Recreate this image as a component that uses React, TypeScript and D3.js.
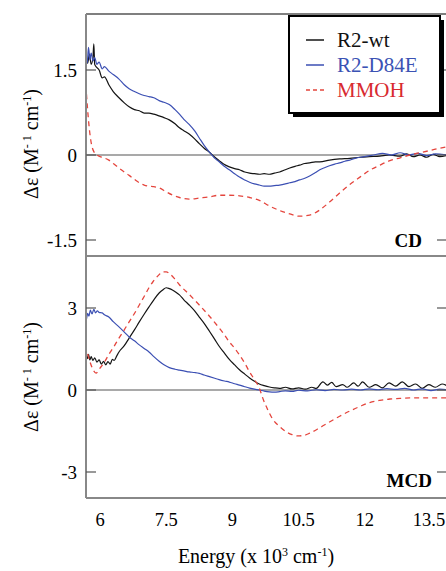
import React from 'react';
import * as d3 from 'd3';

// tick values
const xTicks = [6, 7.5, 9, 10.5, 12, 13.5];
const cdTicks = [-1.5, 0, 1.5];
const mcdTicks = [-3, 0, 3];

const seriesNames = ['R2-wt', 'R2-D84E', 'MMOH'];
const seriesColors = ['#141414', '#3b4fb3', '#e4453d'];
const textColors = ['#111111', '#3b52b4', '#d82a30'];

// CD spectra  [energy (10^3 cm-1), delta eps]
const cdWt: [number, number][] = [
  [5.68, 1.8], [5.72, 1.62], [5.76, 1.78], [5.8, 1.6], [5.84, 1.72], [5.86, 1.96], [5.88, 1.6],
  [5.92, 1.55], [5.98, 1.5], [6.05, 1.36], [6.1, 1.38], [6.2, 1.24], [6.3, 1.12], [6.43, 1.01],
  [6.55, 0.92], [6.66, 0.85], [6.78, 0.8], [6.89, 0.78], [7.0, 0.74], [7.11, 0.74], [7.22, 0.72],
  [7.34, 0.69], [7.45, 0.66], [7.57, 0.62], [7.7, 0.55], [7.8, 0.48], [7.9, 0.43], [8.02, 0.37],
  [8.15, 0.28], [8.25, 0.2], [8.36, 0.12], [8.48, 0.05], [8.59, -0.03], [8.7, -0.1], [8.8, -0.16],
  [8.93, -0.21], [9.05, -0.24], [9.16, -0.26], [9.28, -0.3], [9.39, -0.32], [9.5, -0.33],
  [9.61, -0.34], [9.72, -0.33], [9.84, -0.34], [9.95, -0.32], [10.07, -0.3], [10.2, -0.26],
  [10.3, -0.23], [10.42, -0.2], [10.52, -0.18], [10.64, -0.15], [10.75, -0.14], [10.88, -0.12],
  [10.98, -0.12], [11.2, -0.09], [11.43, -0.07], [11.66, -0.06], [11.89, -0.04], [12.1, -0.03],
  [12.34, -0.02], [12.55, 0.0], [12.8, -0.02], [12.95, 0.02], [13.1, -0.03], [13.25, 0.0],
  [13.4, -0.04], [13.55, 0.01], [13.7, -0.03], [13.88, 0.0],
];
const cdD84E: [number, number][] = [
  [5.68, 1.82], [5.71, 1.62], [5.74, 1.9], [5.77, 1.68], [5.8, 1.8], [5.84, 1.66], [5.88, 1.72],
  [5.93, 1.6], [5.98, 1.64], [6.05, 1.52], [6.1, 1.56], [6.2, 1.48], [6.3, 1.42], [6.43, 1.34],
  [6.55, 1.24], [6.66, 1.17], [6.78, 1.12], [6.89, 1.08], [7.0, 1.05], [7.11, 1.03], [7.22, 1.01],
  [7.34, 0.96], [7.45, 0.93], [7.57, 0.89], [7.7, 0.8], [7.8, 0.72], [7.9, 0.63], [8.02, 0.54],
  [8.15, 0.42], [8.25, 0.3], [8.36, 0.17], [8.48, 0.05], [8.59, -0.05], [8.7, -0.12], [8.8, -0.19],
  [8.93, -0.26], [9.05, -0.33], [9.16, -0.39], [9.28, -0.44], [9.39, -0.48], [9.5, -0.51],
  [9.61, -0.53], [9.72, -0.55], [9.84, -0.55], [9.95, -0.54], [10.07, -0.53], [10.2, -0.51],
  [10.3, -0.49], [10.42, -0.47], [10.52, -0.44], [10.64, -0.41], [10.75, -0.37], [10.88, -0.31],
  [10.98, -0.26], [11.1, -0.22], [11.2, -0.19], [11.32, -0.16], [11.43, -0.14], [11.55, -0.11],
  [11.66, -0.09], [11.78, -0.06], [11.89, -0.04], [12.05, -0.02], [12.2, 0.0], [12.4, 0.03],
  [12.6, 0.0], [12.8, 0.04], [13.0, 0.0], [13.2, 0.03], [13.4, -0.01], [13.6, 0.02], [13.88, 0.0],
];
const cdMmoh: [number, number][] = [
  [5.68, 1.23], [5.7, 1.0], [5.73, 0.7], [5.76, 0.45], [5.8, 0.22], [5.86, 0.06], [5.95, -0.01],
  [6.05, -0.04], [6.2, -0.09], [6.3, -0.15], [6.43, -0.23], [6.55, -0.3], [6.66, -0.36],
  [6.78, -0.43], [6.89, -0.49], [7.0, -0.53], [7.11, -0.55], [7.22, -0.56], [7.34, -0.58],
  [7.5, -0.65], [7.65, -0.71], [7.8, -0.75], [8.02, -0.78], [8.25, -0.76], [8.48, -0.74],
  [8.7, -0.71], [8.93, -0.71], [9.16, -0.72], [9.39, -0.75], [9.61, -0.8], [9.84, -0.9],
  [10.07, -0.98], [10.3, -1.04], [10.52, -1.08], [10.75, -1.06], [10.98, -0.97], [11.2, -0.83],
  [11.43, -0.67], [11.66, -0.52], [11.89, -0.39], [12.11, -0.27], [12.34, -0.18], [12.57, -0.1],
  [12.8, -0.05], [13.02, 0.0], [13.25, 0.04], [13.48, 0.08], [13.7, 0.12], [13.88, 0.15],
];

// MCD spectra
const mcdWt: [number, number][] = [
  [5.68, 1.36], [5.71, 1.15], [5.74, 1.3], [5.77, 1.1], [5.8, 1.22], [5.84, 1.08], [5.88, 1.18],
  [5.93, 1.02], [5.98, 1.1], [6.03, 0.95], [6.08, 1.05], [6.13, 0.92], [6.18, 1.04], [6.23, 0.95],
  [6.28, 1.12], [6.32, 1.08], [6.38, 1.25], [6.43, 1.39], [6.55, 1.62], [6.66, 1.9], [6.78, 2.2],
  [6.89, 2.49], [7.0, 2.77], [7.11, 3.04], [7.22, 3.3], [7.34, 3.55], [7.42, 3.66], [7.5, 3.74],
  [7.57, 3.71], [7.64, 3.66], [7.72, 3.58], [7.8, 3.48], [7.9, 3.3], [8.02, 3.11], [8.14, 2.9],
  [8.25, 2.67], [8.36, 2.44], [8.48, 2.15], [8.6, 1.85], [8.7, 1.6], [8.82, 1.35], [8.93, 1.12],
  [9.05, 0.92], [9.16, 0.74], [9.28, 0.58], [9.39, 0.44], [9.5, 0.32], [9.61, 0.22], [9.72, 0.16],
  [9.84, 0.11], [9.95, 0.08], [10.07, 0.06], [10.2, 0.1], [10.35, 0.04], [10.5, 0.08], [10.65, 0.03],
  [10.8, 0.1], [10.9, 0.06], [11.05, 0.3], [11.15, 0.18], [11.25, 0.28], [11.35, 0.12], [11.5, 0.2],
  [11.6, 0.1], [11.75, 0.26], [11.85, 0.14], [11.95, 0.3], [12.1, 0.1], [12.25, 0.2], [12.4, 0.08],
  [12.55, 0.26], [12.7, 0.14], [12.85, 0.3], [13.0, 0.12], [13.15, 0.22], [13.3, 0.06], [13.45, 0.2],
  [13.6, 0.1], [13.75, 0.22], [13.88, 0.14],
];
const mcdD84E: [number, number][] = [
  [5.68, 2.49], [5.7, 2.65], [5.72, 2.8], [5.75, 2.7], [5.78, 2.92], [5.82, 2.78], [5.86, 2.95],
  [5.9, 2.82], [5.94, 2.9], [5.98, 2.84], [6.05, 2.82], [6.1, 2.75], [6.2, 2.67], [6.3, 2.5],
  [6.43, 2.31], [6.55, 2.12], [6.66, 1.94], [6.78, 1.8], [6.89, 1.65], [7.0, 1.52], [7.11, 1.39],
  [7.22, 1.22], [7.34, 1.05], [7.45, 0.92], [7.57, 0.82], [7.7, 0.76], [7.8, 0.73], [7.9, 0.7],
  [8.02, 0.66], [8.14, 0.64], [8.25, 0.61], [8.36, 0.55], [8.48, 0.49], [8.6, 0.43], [8.7, 0.38],
  [8.82, 0.33], [8.93, 0.29], [9.05, 0.23], [9.16, 0.18], [9.28, 0.12], [9.39, 0.07], [9.5, 0.03],
  [9.61, 0.0], [9.72, -0.04], [9.84, -0.07], [9.95, -0.08], [10.07, -0.06], [10.2, -0.03],
  [10.35, -0.05], [10.5, -0.01], [10.7, -0.03], [10.9, 0.01], [11.1, -0.02], [11.3, 0.02],
  [11.5, 0.0], [11.7, 0.03], [11.9, 0.0], [12.1, 0.04], [12.3, 0.01], [12.5, 0.05], [12.7, 0.02],
  [12.9, 0.06], [13.1, 0.0], [13.3, 0.04], [13.5, -0.02], [13.7, 0.03], [13.88, 0.01],
];
const mcdMmoh: [number, number][] = [
  [5.72, 1.32], [5.78, 1.0], [5.85, 0.72], [5.91, 0.62], [6.0, 0.8], [6.1, 1.02], [6.2, 1.3],
  [6.32, 1.6], [6.43, 1.9], [6.55, 2.2], [6.66, 2.49], [6.78, 2.8], [6.89, 3.11], [7.0, 3.42],
  [7.11, 3.74], [7.2, 3.96], [7.27, 4.1], [7.34, 4.22], [7.41, 4.32], [7.5, 4.32], [7.61, 4.21],
  [7.7, 4.05], [7.8, 3.85], [8.02, 3.5], [8.25, 3.11], [8.48, 2.7], [8.7, 2.27], [8.82, 2.02],
  [8.93, 1.76], [9.05, 1.53], [9.16, 1.28], [9.28, 0.98], [9.39, 0.66], [9.5, 0.38], [9.61, 0.07],
  [9.7, -0.35], [9.8, -0.72], [9.91, -1.06], [10.07, -1.34], [10.23, -1.54], [10.35, -1.63],
  [10.48, -1.68], [10.62, -1.66], [10.75, -1.58], [10.98, -1.38], [11.2, -1.17], [11.43, -0.96],
  [11.66, -0.77], [11.89, -0.6], [12.11, -0.46], [12.34, -0.38], [12.57, -0.33], [12.8, -0.31],
  [13.02, -0.29], [13.3, -0.29], [13.6, -0.29], [13.88, -0.29],
];

const W = 446;
const H = 571;
const LEFT = 86;
const RIGHT = 447;
const CD_TOP = 14;
const SPLIT = 256;
const BOTTOM = 498;
const FONT = "'Liberation Serif', 'Times New Roman', serif";

export default function App() {
  const x = d3.scaleLinear().domain([6, 13.5]).range([100, 431]);
  const yCd = d3.scaleLinear().domain([-1.5, 1.5]).range([240, 70]);
  const yMcd = d3.scaleLinear().domain([-3, 3]).range([472, 308]);

  const lineCd = d3.line<[number, number]>().x(d => x(d[0])).y(d => yCd(d[1])).curve(d3.curveMonotoneX);
  const lineMcd = d3.line<[number, number]>().x(d => x(d[0])).y(d => yMcd(d[1])).curve(d3.curveMonotoneX);

  const cdSeries = [cdWt, cdD84E, cdMmoh];
  const mcdSeries = [mcdWt, mcdD84E, mcdMmoh];

  const yTitle = (cy: number) => (
    <text transform={`translate(38,${cy}) rotate(-90)`} textAnchor="middle" fontSize={20} fontFamily={FONT}>
      Δε (M<tspan dy={-7} fontSize={12}>- 1</tspan><tspan dy={7}> cm</tspan>
      <tspan dy={-7} fontSize={12}>-1</tspan><tspan dy={7}>)</tspan>
    </text>
  );

  return (
    <svg width={W} height={H} style={{ position: 'absolute', left: 0, top: 0, background: '#fff' }}>
      <defs>
        <clipPath id="clipCd"><rect x={LEFT} y={CD_TOP} width={RIGHT - LEFT} height={SPLIT - CD_TOP} /></clipPath>
        <clipPath id="clipMcd"><rect x={LEFT} y={SPLIT} width={RIGHT - LEFT} height={BOTTOM - SPLIT} /></clipPath>
      </defs>

      {/* zero lines */}
      <line x1={LEFT} x2={RIGHT} y1={yCd(0)} y2={yCd(0)} stroke="#555" strokeWidth={1.2} />
      <line x1={LEFT} x2={RIGHT} y1={yMcd(0)} y2={yMcd(0)} stroke="#555" strokeWidth={1.2} />

      {/* curves */}
      <g clipPath="url(#clipCd)">
        {cdSeries.map((s, i) => (
          <path key={i} d={lineCd(s) || ''} fill="none" stroke={seriesColors[i]}
            strokeWidth={i === 2 ? 1.3 : 1.2} strokeDasharray={i === 2 ? '5,4' : undefined} />
        ))}
      </g>
      <g clipPath="url(#clipMcd)">
        {mcdSeries.map((s, i) => (
          <path key={i} d={lineMcd(s) || ''} fill="none" stroke={seriesColors[i]}
            strokeWidth={i === 2 ? 1.3 : 1.2} strokeDasharray={i === 2 ? '5,4' : undefined} />
        ))}
      </g>

      {/* frame */}
      <line x1={LEFT} x2={RIGHT} y1={CD_TOP} y2={CD_TOP} stroke="#555" strokeWidth={1.4} />
      <line x1={LEFT} x2={RIGHT} y1={SPLIT} y2={SPLIT} stroke="#888" strokeWidth={2} />
      <line x1={LEFT} x2={RIGHT} y1={BOTTOM} y2={BOTTOM} stroke="#888" strokeWidth={2} />
      <line x1={LEFT} x2={LEFT} y1={CD_TOP} y2={BOTTOM} stroke="#888" strokeWidth={2} />

      {/* y ticks */}
      {cdTicks.map(t => (
        <g key={'c' + t}>
          <line x1={LEFT} x2={LEFT + 10} y1={yCd(t)} y2={yCd(t)} stroke="#555" strokeWidth={1.2} />
          <line x1={RIGHT - 10} x2={RIGHT} y1={yCd(t)} y2={yCd(t)} stroke="#555" strokeWidth={1.2} />
          <text x={77} y={yCd(t)} dy="0.35em" textAnchor="end" fontSize={19} fontFamily={FONT}>{String(t)}</text>
        </g>
      ))}
      {mcdTicks.map(t => (
        <g key={'m' + t}>
          <line x1={LEFT} x2={LEFT + 10} y1={yMcd(t)} y2={yMcd(t)} stroke="#555" strokeWidth={1.2} />
          <line x1={RIGHT - 10} x2={RIGHT} y1={yMcd(t)} y2={yMcd(t)} stroke="#555" strokeWidth={1.2} />
          <text x={77} y={yMcd(t)} dy="0.35em" textAnchor="end" fontSize={19} fontFamily={FONT}>{String(t)}</text>
        </g>
      ))}

      {/* x tick labels, last one kept inside the page */}
      {xTicks.map(t => (
        <text key={'x' + t} x={Math.min(x(t), W - 17)} y={526} textAnchor="middle" fontSize={18.5} fontFamily={FONT}>{String(t)}</text>
      ))}

      {/* axis titles */}
      <text x={256} y={563} textAnchor="middle" fontSize={20} fontFamily={FONT}>
        Energy (x 10<tspan dy={-7} fontSize={12}>3</tspan><tspan dy={7}> cm</tspan>
        <tspan dy={-7} fontSize={12}>-1</tspan><tspan dy={7}>)</tspan>
      </text>
      {yTitle(144)}
      {yTitle(377)}

      {/* panel labels */}
      <text x={422} y={247} textAnchor="end" fontSize={19} fontWeight="bold" fontFamily={FONT}>CD</text>
      <text x={432} y={487} textAnchor="end" fontSize={19} fontWeight="bold" fontFamily={FONT}>MCD</text>

      {/* legend */}
      <rect x={293} y={20} width={151} height={97} fill="#000" />
      <rect x={289} y={16} width={151} height={97} fill="#fff" stroke="#000" strokeWidth={2} />
      {seriesNames.map((n, i) => (
        <g key={n}>
          <line x1={306} x2={324} y1={40 + i * 25} y2={40 + i * 25} stroke={seriesColors[i]}
            strokeWidth={1.5} strokeDasharray={i === 2 ? '4,3' : undefined} />
          <text x={337} y={47 + i * 25} fontSize={21} fill={textColors[i]} fontFamily={FONT}>{n}</text>
        </g>
      ))}
    </svg>
  );
}
